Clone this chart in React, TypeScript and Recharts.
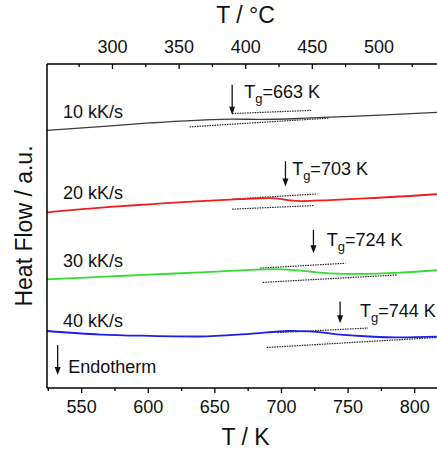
import { Line, LineChart, ReferenceDot, ReferenceLine, XAxis, YAxis } from "recharts";

const FONT = '"Liberation Sans", Arial, sans-serif';

// temperature in K, heat flow in arbitrary units (frame spans 0..10)
const t10 = [524, 564, 601, 639, 663, 684, 714, 736, 774, 822];
const hf10 = [7.95, 8.07, 8.18, 8.27, 8.3, 8.29, 8.32, 8.36, 8.42, 8.52];

const t20 = [524, 569, 601, 639, 669, 691, 714, 736, 766, 816, 822];
const hf20 = [5.42, 5.58, 5.67, 5.77, 5.83, 5.86, 5.77, 5.8, 5.86, 5.98, 6.0];

const t30 = [524, 564, 596, 639, 669, 695, 714, 736, 759, 789, 822];
const hf30 = [3.35, 3.43, 3.49, 3.57, 3.63, 3.67, 3.62, 3.54, 3.52, 3.56, 3.65];

const t40 = [524, 564, 601, 639, 676, 706, 721, 744, 766, 789, 822];
const hf40 = [1.76, 1.65, 1.61, 1.59, 1.67, 1.76, 1.75, 1.65, 1.59, 1.56, 1.59];

// tangent construction lines: [T start, T end], [hf start, hf end]
const tangentT = [
  [663, 723], [631, 736],
  [663, 727], [663, 724],
  [684, 748], [686, 787],
  [697, 765], [689, 817],
];
const tangentHf = [
  [8.47, 8.57], [8.06, 8.33],
  [5.83, 5.99], [5.52, 5.63],
  [3.7, 3.85], [3.26, 3.49],
  [1.71, 1.85], [1.25, 1.56],
];

const rates = ["10 kK/s", "20 kK/s", "30 kK/s", "40 kK/s"];
const rateHf = [8.34, 5.83, 3.75, 1.89];

const tg = [663, 703, 724, 744];
const tgArrowTop = [9.36, 7.0, 4.88, 2.67];
const tgArrowTip = [8.43, 6.22, 4.16, 2.0];
const tgLabelT = [672, 708, 734, 759];
const tgLabelHf = [8.94, 6.56, 4.37, 2.19];

const kelvinTicks = [525, 550, 575, 600, 625, 650, 675, 700, 725, 750, 775, 800];
const celsiusTicks = [275, 300, 325, 350, 375, 400, 425, 450, 475, 500, 525];

const T_MIN = 524;
const T_MAX = 822;

const zip = (t: number[], hf: number[]) => t.map((T, i) => ({ T, hf: hf[i] }));

const curves = [
  { name: "10 kK/s", data: zip(t10, hf10), color: "#3c3c3c", width: 1.3 },
  { name: "20 kK/s", data: zip(t20, hf20), color: "#f01e1e", width: 1.8 },
  { name: "30 kK/s", data: zip(t30, hf30), color: "#33dd33", width: 1.8 },
  { name: "40 kK/s", data: zip(t40, hf40), color: "#1e1ee6", width: 1.8 },
];

const tangents = tangentT.map((t, i) => zip(t, tangentHf[i]));

function BottomTick({ x, y, payload }: any) {
  const major = payload.value % 50 === 0;
  return (
    <g>
      <line x1={x} x2={x} y1={y} y2={y + (major ? 5 : 3)} stroke="#000" strokeWidth={1.3} />
      {major && (
        <text x={x} y={y + 25} textAnchor="middle" fontSize={18} fontFamily={FONT} fill="#111">
          {payload.value}
        </text>
      )}
    </g>
  );
}

function TopTick({ x, y, payload }: any) {
  const c = Math.round(payload.value - 273.15);
  const major = c % 50 === 0;
  return (
    <g>
      <line x1={x} x2={x} y1={y} y2={y + (major ? 5 : 3)} stroke="#000" strokeWidth={1.3} />
      {major && (
        <text x={x} y={y - 11} textAnchor="middle" fontSize={18} fontFamily={FONT} fill="#111">
          {c}
        </text>
      )}
    </g>
  );
}

function arrow(props: any) {
  const { x1, y1, y2 } = props;
  return (
    <g>
      <line x1={x1} x2={x1} y1={y1} y2={y2 - 6} stroke="#111" strokeWidth={1.3} />
      <polygon points={`${x1 - 3},${y2 - 8} ${x1 + 3},${y2 - 8} ${x1},${y2}`} fill="#111" />
    </g>
  );
}

export default function App() {
  return (
    <div
      style={{
        position: "absolute",
        left: 0,
        top: 0,
        width: 437,
        height: 458,
        overflow: "hidden",
        background: "#fff",
      }}
    >
      <LineChart width={444} height={458} margin={{ top: 0, right: 0, bottom: 0, left: 0 }}>
        <XAxis
          xAxisId="bottom"
          dataKey="T"
          type="number"
          domain={[T_MIN, T_MAX]}
          allowDataOverflow
          ticks={kelvinTicks}
          interval={0}
          tickSize={0}
          tickMargin={0}
          tickLine={false}
          tick={<BottomTick />}
          height={70}
          axisLine={{ stroke: "#000", strokeWidth: 1.5 }}
          label={{
            value: "T / K",
            position: "insideBottom",
            offset: 13,
            style: { fontSize: 23, fontFamily: FONT, fill: "#111" },
          }}
        />
        <XAxis
          xAxisId="top"
          orientation="top"
          dataKey="T"
          type="number"
          domain={[T_MIN, T_MAX]}
          allowDataOverflow
          ticks={celsiusTicks.map((c) => c + 273.15)}
          interval={0}
          tickSize={0}
          tickMargin={0}
          tickLine={false}
          tick={<TopTick />}
          height={64}
          axisLine={{ stroke: "#000", strokeWidth: 1.5 }}
          label={{
            value: "T / °C",
            position: "insideTop",
            offset: 7,
            style: { fontSize: 23, fontFamily: FONT, fill: "#111" },
          }}
        />
        <YAxis
          yAxisId="hf"
          type="number"
          domain={[0, 10]}
          width={47}
          tick={false}
          tickLine={false}
          axisLine={{ stroke: "#000", strokeWidth: 1.5 }}
          label={{
            value: "Heat Flow / a.u.",
            angle: -90,
            position: "center",
            style: { fontSize: 23, fontFamily: FONT, fill: "#111" },
          }}
        />

        {tangents.map((d, i) => (
          <Line
            key={`tan-${i}`}
            xAxisId="bottom"
            yAxisId="hf"
            data={d}
            dataKey="hf"
            type="linear"
            stroke="#222"
            strokeWidth={1.2}
            strokeDasharray="1.5 1"
            dot={false}
            activeDot={false}
            isAnimationActive={false}
          />
        ))}

        {curves.map((c) => (
          <Line
            key={c.name}
            xAxisId="bottom"
            yAxisId="hf"
            data={c.data}
            dataKey="hf"
            name={c.name}
            type="monotone"
            stroke={c.color}
            strokeWidth={c.width}
            dot={false}
            activeDot={false}
            isAnimationActive={false}
          />
        ))}

        {rates.map((r, i) => (
          <ReferenceDot
            key={r}
            xAxisId="bottom"
            yAxisId="hf"
            x={536}
            y={rateHf[i]}
            shape={(p: any) => (
              <text x={p.cx} y={p.cy} fontSize={18} fontFamily={FONT} fill="#111">
                {r}
              </text>
            )}
          />
        ))}

        {tg.map((t, i) => (
          <ReferenceLine
            key={`arrow-${t}`}
            xAxisId="bottom"
            yAxisId="hf"
            segment={[
              { x: t, y: tgArrowTop[i] },
              { x: t, y: tgArrowTip[i] },
            ]}
            shape={arrow}
          />
        ))}

        {tg.map((t, i) => (
          <ReferenceDot
            key={`tg-${t}`}
            xAxisId="bottom"
            yAxisId="hf"
            x={tgLabelT[i]}
            y={tgLabelHf[i]}
            shape={(p: any) => (
              <text x={p.cx} y={p.cy} fontSize={18} fontFamily={FONT} fill="#111">
                <tspan>T</tspan>
                <tspan dy={5} fontSize={13}>g</tspan>
                <tspan dy={-5}>={t} K</tspan>
              </text>
            )}
          />
        ))}

        <ReferenceLine
          xAxisId="bottom"
          yAxisId="hf"
          segment={[
            { x: 532, y: 1.33 },
            { x: 532, y: 0.4 },
          ]}
          shape={arrow}
        />
        <ReferenceDot
          xAxisId="bottom"
          yAxisId="hf"
          x={540}
          y={0.47}
          shape={(p: any) => (
            <text x={p.cx} y={p.cy} fontSize={18} fontFamily={FONT} fill="#111">
              Endotherm
            </text>
          )}
        />
      </LineChart>
    </div>
  );
}
